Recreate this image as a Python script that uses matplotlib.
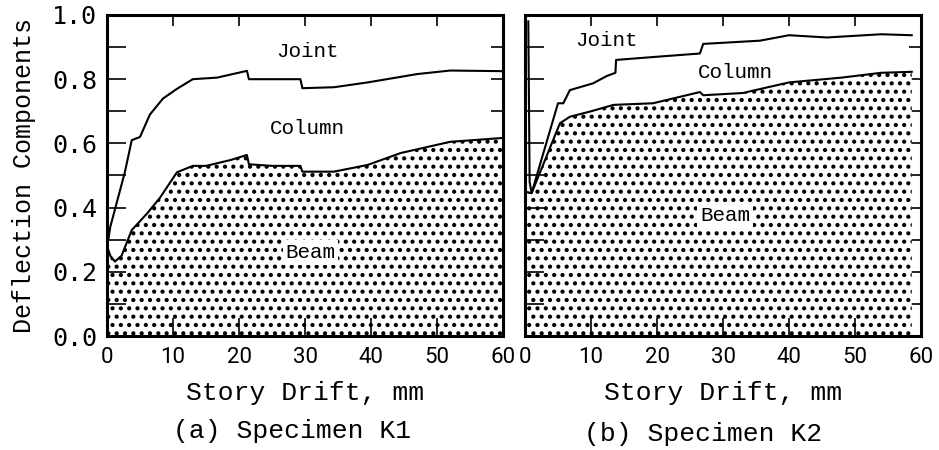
import matplotlib
matplotlib.use("Agg")
import matplotlib.pyplot as plt
from matplotlib.ticker import MultipleLocator, FixedLocator, NullFormatter

# story drift (mm) / deflection share
K1_UPPER_X = [0.2, 0.5, 2.7, 3.75, 5.0, 6.5, 8.5, 10.6, 13.0, 16.7, 21.2, 21.5,
              29.3, 29.6, 34.4, 39.5, 47.0, 52.0, 60.0]
K1_UPPER_Y = [0.30, 0.34, 0.51, 0.61, 0.62, 0.69, 0.74, 0.77, 0.80, 0.805, 0.826, 0.80,
              0.80, 0.772, 0.775, 0.79, 0.816, 0.827, 0.825]
K1_LOWER_X = [0.0, 0.5, 1.2, 2.2, 3.75, 6.0, 8.0, 10.6, 13.0, 15.0, 18.7, 21.2, 21.5,
              25.0, 29.3, 29.6, 34.4, 39.5, 44.5, 52.0, 60.0]
K1_LOWER_Y = [0.28, 0.25, 0.232, 0.25, 0.33, 0.38, 0.43, 0.51, 0.53, 0.53, 0.548, 0.564, 0.535,
              0.53, 0.53, 0.512, 0.512, 0.533, 0.57, 0.605, 0.617]

K2_UPPER_X = [0.5, 0.7, 1.0, 5.0, 5.8, 6.8, 10.3, 12.4, 13.7, 13.8, 20.0, 26.5, 27.0,
              35.6, 40.0, 45.7, 54.0, 58.6]
K2_UPPER_Y = [0.98, 0.48, 0.445, 0.725, 0.725, 0.766, 0.787, 0.81, 0.82, 0.86, 0.87, 0.88, 0.91,
              0.92, 0.937, 0.93, 0.94, 0.937]
K2_LOWER_X = [0.0, 1.0, 5.3, 6.8, 10.0, 13.4, 19.4, 26.5, 27.0, 33.0, 40.0, 48.0, 54.0, 58.6]
K2_LOWER_Y = [0.45, 0.445, 0.663, 0.683, 0.70, 0.72, 0.725, 0.76, 0.75, 0.757, 0.79, 0.805,
              0.82, 0.823]

X_TICKS = [0, 10, 20, 30, 40, 50, 60]
Y_TICKS = [0.0, 0.2, 0.4, 0.6, 0.8, 1.0]

plt.rcParams["hatch.linewidth"] = 1.8

MONO = ["Liberation Mono", "DejaVu Sans Mono"]

W, H = 939, 450
dpi = 100
fig = plt.figure(figsize=(W / dpi, H / dpi), dpi=dpi)


def panel(left_px, lx, ly, ux, uy, labels, first):
    ax = fig.add_axes([left_px / W, 1 - 336 / H, 396 / W, 321 / H])
    ax.set_xlim(0, 60)
    ax.set_ylim(0, 1.0)
    ax.fill_between(lx, 0, ly, facecolor="white", edgecolor="black",
                    hatch="..", linewidth=0)
    ax.plot(lx, ly, color="black", linewidth=1.5)
    ax.plot(ux, uy, color="black", linewidth=1.5)

    for s in ax.spines.values():
        s.set_linewidth(2.2)

    ax.xaxis.set_major_locator(FixedLocator(X_TICKS))
    ax.yaxis.set_major_locator(FixedLocator(Y_TICKS))
    ax.yaxis.set_minor_locator(MultipleLocator(0.1))
    ax.tick_params(axis="x", direction="in", length=13, width=1.2, pad=8,
                   labelsize=16, labelfontfamily="Roboto")
    ax.tick_params(axis="y", which="both", direction="in", length=14, width=1.2, pad=7,
                   labelsize=18, labelfontfamily="DejaVu Sans Mono")
    if not first:
        ax.yaxis.set_major_formatter(NullFormatter())

    top = ax.secondary_xaxis("top")
    top.xaxis.set_major_locator(FixedLocator(X_TICKS))
    top.tick_params(direction="in", length=8, width=1.2, labeltop=False)
    top.spines["top"].set_visible(False)
    right = ax.secondary_yaxis("right")
    right.yaxis.set_major_locator(MultipleLocator(0.1))
    right.tick_params(direction="in", length=9, width=1.2, labelright=False)
    right.spines["right"].set_visible(False)

    ax.set_xlabel("Story Drift, mm", family=MONO, fontsize=19, labelpad=9)
    for txt, x, y, box in labels:
        ax.text(x, y, txt, family=MONO, fontsize=15, ha="center", va="center",
                bbox=dict(facecolor="white", edgecolor="none", pad=2) if box else None)
    return ax


ax1 = panel(107, K1_LOWER_X, K1_LOWER_Y, K1_UPPER_X, K1_UPPER_Y,
            [("Joint", 30.4, 0.885, False), ("Column", 30.4, 0.645, False),
             ("Beam", 30.8, 0.26, True)], True)
ax2 = panel(525, K2_LOWER_X, K2_LOWER_Y, K2_UPPER_X, K2_UPPER_Y,
            [("Joint", 12.4, 0.92, False), ("Column", 31.8, 0.82, False),
             ("Beam", 30.3, 0.374, True)], False)

ax1.set_ylabel("Deflection Components", family=MONO, fontsize=18, labelpad=12)

fig.text(292 / W, 1 - 431 / H, "(a) Specimen K1", family=MONO, fontsize=19,
         ha="center", va="center")
fig.text(703 / W, 1 - 434 / H, "(b) Specimen K2", family=MONO, fontsize=19,
         ha="center", va="center")

fig.savefig("out.png", dpi=dpi)
